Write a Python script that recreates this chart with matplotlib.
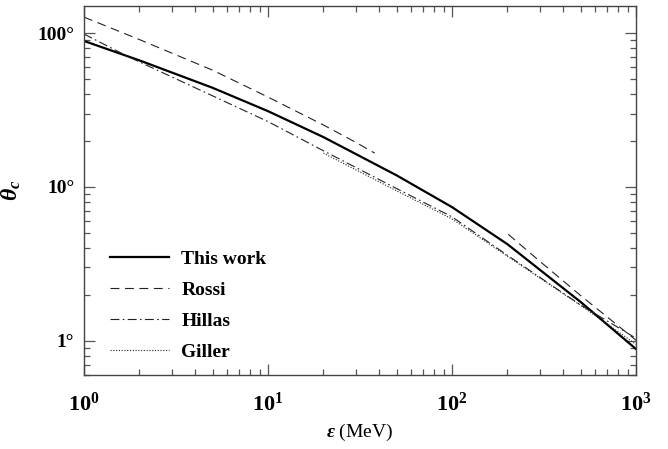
import matplotlib
matplotlib.use("Agg")
import matplotlib.pyplot as plt
from matplotlib.ticker import FixedLocator, FixedFormatter, LogLocator, NullFormatter

plt.rcParams['font.family'] = ['Liberation Serif', 'DejaVu Serif']
plt.rcParams['font.weight'] = 'bold'
plt.rcParams['mathtext.fontset'] = 'custom'
plt.rcParams['mathtext.rm'] = 'Liberation Serif:bold'
plt.rcParams['mathtext.it'] = 'Liberation Serif:italic:bold'
plt.rcParams['mathtext.bf'] = 'Liberation Serif:bold'

# Data (energy in MeV, angle in degrees)
this_E = [1, 2, 5, 10, 20, 50, 100, 200, 500, 1000]
this_theta = [88.9, 66.5, 44.1, 31.1, 21.1, 11.9, 7.40, 4.25, 1.79, 0.885]

rossi1_E = [1, 2, 5, 10, 20, 30, 38]
rossi1_theta = [127, 90.8, 57.4, 38.4, 25.3, 19.5, 16.6]
rossi2_E = [202, 300, 500, 1000]
rossi2_theta = [4.93, 3.29, 1.97, 1.01]

hillas_E = [1, 1.71, 2, 5, 10, 20, 50, 100, 200, 500, 1000]
hillas_theta = [98.6, 71, 65, 39.1, 26.6, 17.2, 9.77, 6.4, 3.60, 1.71, 1.04]

giller_E = [20, 50, 100, 200, 500, 1000]
giller_theta = [16.6, 9.44, 6.2, 3.55, 1.70, 0.95]

xticks = [1, 10, 100, 1000]
xticklabels = ['$10^0$', '$10^1$', '$10^2$', '$10^3$']
yticks = [1, 10, 100]
yticklabels = ['1°', '10°', '100°']

fig = plt.figure(figsize=(6.68, 4.49), dpi=100)
ax = fig.add_axes([84/668, 1-375/449, (636-84)/668, (375-6)/449])

ax.plot(this_E, this_theta, color='black', lw=1.6, ls='-', label='This work')
ax.plot(rossi1_E, rossi1_theta, color='#222222', lw=0.8, ls=(0, (8, 5)), label='Rossi')
ax.plot(rossi2_E, rossi2_theta, color='#222222', lw=0.8, ls=(0, (8, 5)))
ax.plot(hillas_E, hillas_theta, color='#222222', lw=0.8, ls=(0, (8, 3, 1.5, 3)), label='Hillas')
ax.plot(giller_E, giller_theta, color='#222222', lw=0.8, ls=(0, (1, 1.5)), label='Giller')

ax.set_xscale('log')
ax.set_yscale('log')
ax.set_xlim(1, 1000)
ax.set_ylim(0.6, 150)

ax.xaxis.set_major_locator(FixedLocator(xticks))
ax.xaxis.set_major_formatter(FixedFormatter(xticklabels))
ax.xaxis.set_minor_locator(LogLocator(base=10, subs=range(2, 10)))
ax.xaxis.set_minor_formatter(NullFormatter())
ax.yaxis.set_major_locator(FixedLocator(yticks))
ax.yaxis.set_major_formatter(FixedFormatter(yticklabels))
ax.yaxis.set_minor_locator(LogLocator(base=10, subs=range(2, 10)))
ax.yaxis.set_minor_formatter(NullFormatter())

for s in ax.spines.values():
    s.set_color('#444444')
    s.set_linewidth(1.0)

ax.tick_params(which='both', direction='in', top=True, right=True, color='#555555')
ax.tick_params(which='major', length=8, width=0.9)
ax.tick_params(which='minor', length=4, width=0.9)
ax.tick_params(axis='x', which='major', pad=13, labelsize=16)
ax.tick_params(axis='y', which='major', pad=7, labelsize=14)

ax.set_xlabel('$\\epsilon$ (MeV)', fontsize=14, labelpad=4)
ax.set_ylabel('$\\theta_c$', fontsize=17, labelpad=10)

ax.legend(loc='upper left', bbox_to_anchor=(0.016, 0.385), frameon=False,
          fontsize=14, handlelength=3.0, handletextpad=0.65, labelspacing=0.68)

fig.savefig('out.png', dpi=100)
